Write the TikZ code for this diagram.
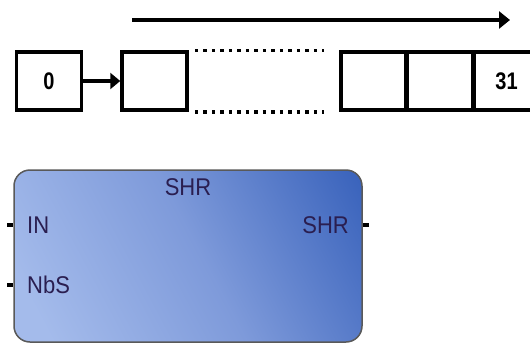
\documentclass[tikz,border=0pt]{standalone}
\usepackage{fontspec}
\setmainfont{Liberation Sans}
\usetikzlibrary{arrows.meta}
\definecolor{txtc}{HTML}{2A1E50}
\definecolor{blklight}{HTML}{A4BBEB}
\definecolor{blkmid}{HTML}{7E9ADA}
\definecolor{blkdark}{HTML}{2653B3}
\pgfdeclareverticalshading{blkshade}{100bp}{color(0bp)=(blklight); color(22bp)=(blklight); color(52bp)=(blkmid); color(92bp)=(blkdark); color(100bp)=(blkdark)}
\begin{document}
\begin{tikzpicture}[x=1pt,y=-1pt,
  cell/.style={draw=black,line width=3.5pt,minimum width=65pt,minimum height=58pt,inner sep=0pt,font=\fontsize{20}{20}\selectfont\bfseries},
  dotline/.style={line width=3.5pt,dash pattern=on 3.5pt off 5pt},
  blk/.style={draw=black!65,line width=1.5pt,rounded corners=16pt,minimum width=348pt,minimum height=172pt,inner sep=0pt,
    shading=blkshade,shading angle=-62},
  pin/.style={line width=3.5pt},
  lbl/.style={text=txtc,font=\fontsize{22}{22}\selectfont,inner sep=0pt}]
\useasboundingbox (0,0) rectangle (530,343);
\fill[white] (0,0) rectangle (530,343);
% top arrow
\coordinate (as) at (132,20);
\coordinate (ae) at (510,20);
\draw[line width=3.5pt,-{Triangle[length=11pt,width=17pt]}] (as) -- (ae);
% cells
\node[cell] (c0) at (49,81) {\scalebox{1}[1.2]{0}};
\node[cell] (c1) at (154.5,81) {};
\node[cell] (r1) at (373.5,81) {};
\node[cell] (r2) at (440,81) {};
\node[cell] (r3) at (506.5,81) {\scalebox{1}[1.2]{31}};
\draw[line width=3.5pt,-{Triangle[length=10pt,width=16pt]}] (c0.east) -- (c1.west);
\draw[dotline,shorten <=6pt,shorten >=15pt] (c1.north east) -- (r1.north west);
\draw[dotline,shorten <=6pt,shorten >=15pt] (c1.south east) -- (r1.south west);
% block
\node[blk] (b) at (188,256) {};
\node[lbl,anchor=base] (t) at (188,195) {\scalebox{1}[1.1]{SHR}};
\node[lbl,anchor=base west] (in) at (27,233) {\scalebox{1}[1.1]{IN}};
\node[lbl,anchor=base west] (nbs) at (27,293) {\scalebox{1}[1.1]{NbS}};
\node[lbl,anchor=base east] (out) at (349,233) {\scalebox{1}[1.1]{SHR}};
\coordinate (p1) at (7,225);
\coordinate (p2) at (7,285);
\coordinate (p3) at (369,225);
\draw[pin] (p1) -- (p1 -| b.west);
\draw[pin] (p2) -- (p2 -| b.west);
\draw[pin] (p3) -- (p3 -| b.east);
\end{tikzpicture}
\end{document}
